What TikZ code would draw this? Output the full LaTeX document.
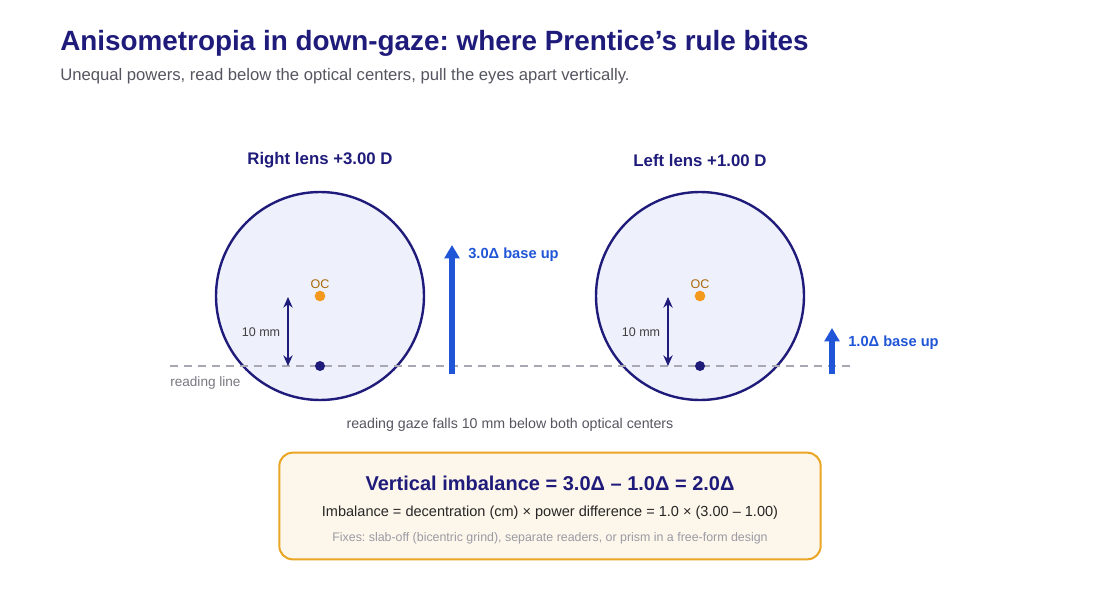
\documentclass[tikz,border=0pt]{standalone}
\usepackage{fontspec}
\setmainfont{Liberation Sans}
\usetikzlibrary{arrows.meta}
\frenchspacing
\definecolor{navy}{HTML}{1F1B7A}
\definecolor{lensfill}{HTML}{EEF0FB}
\definecolor{ocorange}{HTML}{F39A1E}
\definecolor{octext}{HTML}{A86A0A}
\definecolor{arrowblue}{HTML}{1F55D6}
\definecolor{subgray}{HTML}{555560}
\definecolor{linegray}{HTML}{A8A8B4}
\definecolor{boxfill}{HTML}{FDF6EA}
\definecolor{boxdraw}{HTML}{EAA524}
\definecolor{fixgray}{HTML}{9A9AA4}
\begin{document}
\begin{tikzpicture}[x=0.75pt,y=-0.75pt,
  lens/.style={circle,draw=navy,line width=1.8pt,fill=lensfill,minimum size=156pt,inner sep=0pt},
  ocdot/.style={circle,fill=ocorange,minimum size=8pt,inner sep=0pt},
  rdot/.style={circle,fill=navy,minimum size=7.5pt,inner sep=0pt},
  lenstitle/.style={text=navy,font=\fontsize{12.6pt}{14pt}\selectfont\bfseries},
  oclabel/.style={text=octext,font=\fontsize{9.4pt}{11pt}\selectfont,inner sep=0pt},
  mmlabel/.style={text=black!75,font=\fontsize{9.4pt}{11pt}\selectfont,inner sep=0pt},
  dimarrow/.style={navy,line width=1pt,{Stealth[length=8pt,width=7pt]}-{Stealth[length=8pt,width=7pt]}},
  prism/.style={arrowblue,line width=4.5pt,-{Triangle[length=10pt,width=11pt]}},
  prismlabel/.style={text=arrowblue,font=\fontsize{11pt}{13pt}\selectfont\bfseries,inner sep=0pt,anchor=west},
  readline/.style={linegray,line width=1.1pt,dash pattern=on 6pt off 4.5pt}
]
\useasboundingbox (0,0) rectangle (1100,600);

% title
\node[anchor=base west,inner sep=0pt,text=navy,font=\fontsize{20.9pt}{24pt}\selectfont\bfseries] (title) at (60,50) {Anisometropia in down-gaze: where Prentice’s rule bites};
\node[anchor=base west,inner sep=0pt,text=subgray,font=\fontsize{12.5pt}{14pt}\selectfont] (subtitle) at (60,80) {Unequal powers, read below the optical centers, pull the eyes apart vertically.};

% lenses
\node[lens] (lensR) at (320,296) {};
\node[lens] (lensL) at (700,296) {};

% reading line
\coordinate (rlA) at (170,366);
\coordinate (rlB) at (850,366);
\draw[readline] (rlA) -- (rlB);
\node[anchor=north west,inner sep=0pt,text=subgray!80,font=\fontsize{10.2pt}{11pt}\selectfont] (rltext) at (170,376) {reading line};

% lens titles
\node[lenstitle] (titleR) at (320,160) {Right lens +3.00 D};
\node[lenstitle] (titleL) at (700,160) {Left lens +1.00 D};

% OC dots
\node[ocdot] (ocR) at (320,296) {};
\node[ocdot] (ocL) at (700,296) {};
\node[oclabel] (ocRt) at (320,284) {OC};
\node[oclabel] (ocLt) at (700,284) {OC};

% reading dots
\node[rdot] (rdR) at (320,366) {};
\node[rdot] (rdL) at (700,366) {};

% 10 mm arrows
\coordinate (dRt) at (288,297);
\coordinate (dRb) at (288,366);
\coordinate (dLt) at (668,297);
\coordinate (dLb) at (668,366);
\draw[dimarrow] (dRt) -- (dRb);
\draw[dimarrow] (dLt) -- (dLb);
\node[mmlabel] (mmR) at (261,332) {10 mm};
\node[mmlabel] (mmL) at (641,332) {10 mm};

% prism arrows
\coordinate (pRb) at (452,374);
\coordinate (pRt) at (452,245);
\coordinate (pLb) at (832,374);
\coordinate (pLt) at (832,328);
\draw[prism] (pRb) -- (pRt);
\draw[prism] (pLb) -- (pLt);
\node[prismlabel] (pRl) at (468,255) {3.0Δ base up};
\node[prismlabel] (pLl) at (848,343) {1.0Δ base up};

% caption
\node[text=subgray,font=\fontsize{10.65pt}{12pt}\selectfont] (gaze) at (510,425) {reading gaze falls 10 mm below both optical centers};

% summary box
\node[draw=boxdraw,line width=1.5pt,fill=boxfill,rounded corners=10pt,minimum width=406pt,minimum height=80pt,inner sep=0pt] (box) at (550,506) {};
\node[text=navy,font=\fontsize{15pt}{18pt}\selectfont\bfseries] (res) at (550,483) {Vertical imbalance = 3.0Δ – 1.0Δ = 2.0Δ};
\node[text=black!85,font=\fontsize{10.9pt}{12pt}\selectfont] (formula) at (550,513) {Imbalance = decentration (cm) × power difference = 1.0 × (3.00 – 1.00)};
\node[text=fixgray,font=\fontsize{9.3pt}{10pt}\selectfont] (fixes) at (550,538) {Fixes: slab-off (bicentric grind), separate readers, or prism in a free-form design};
\end{tikzpicture}
\end{document}
